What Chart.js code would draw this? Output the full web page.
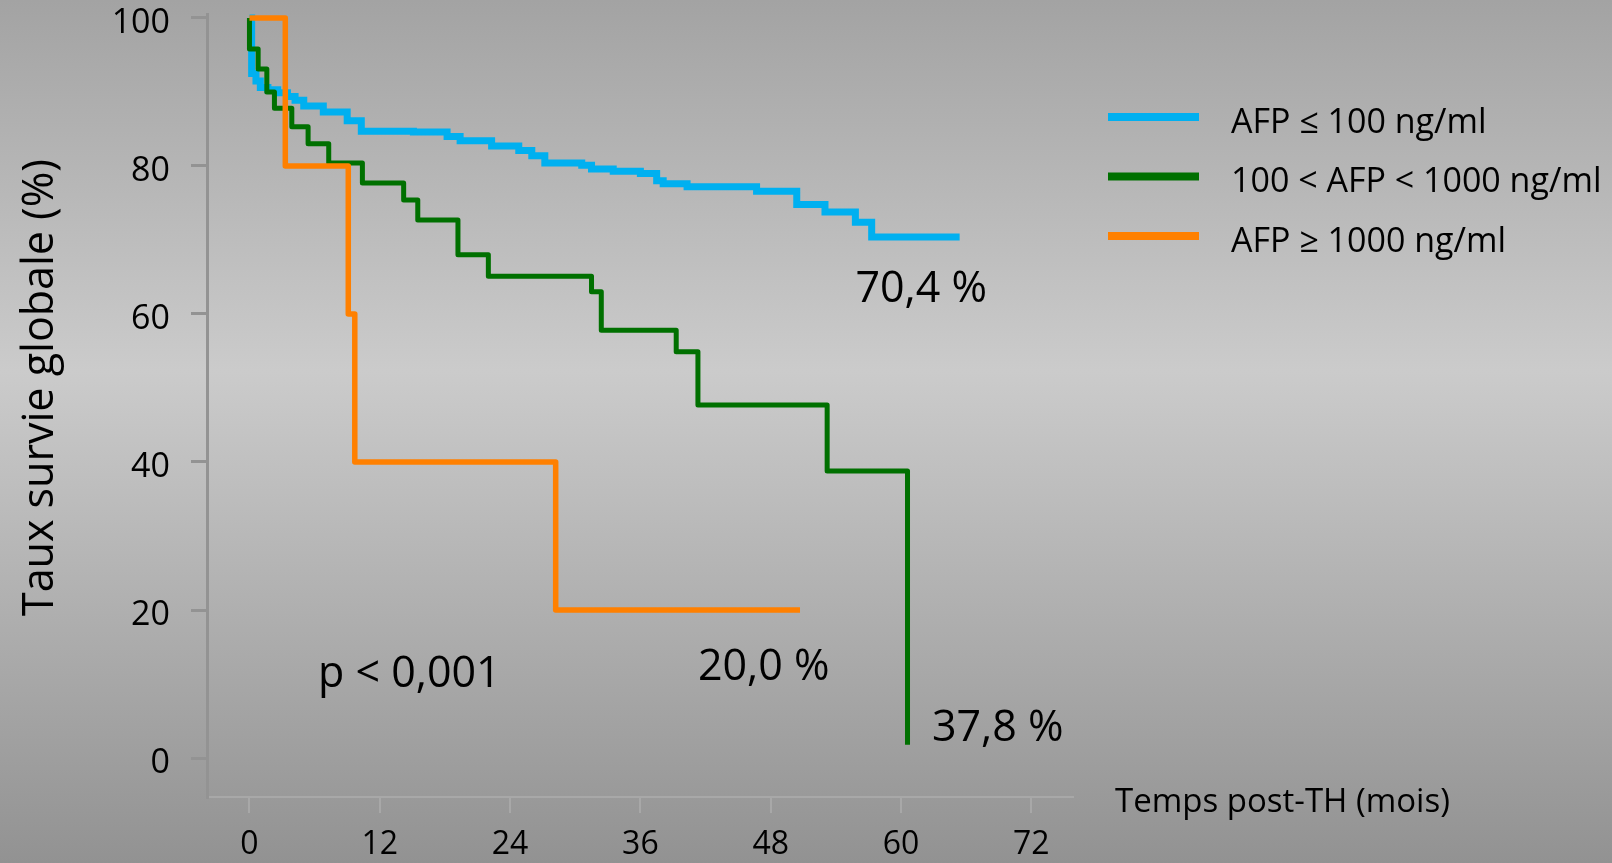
<!doctype html>
<html>

<head>
    <title>Taux survie globale</title>
    <script src="https://cdn.jsdelivr.net/npm/chart.js"></script>
    <style>
        body { margin: 0; }
        #fond {
            width: 1612px;
            height: 863px;
            background: linear-gradient(to bottom, #a3a3a3 0%, #cbcbcb 43%, #929292 100%);
        }
    </style>
</head>

<body>
    <div id="fond">
        <canvas id="survie"></canvas>
    </div>

    <script>
    // ticks
    const xTicks = [0, 12, 24, 36, 48, 60, 72];
    const yTicks = [0, 20, 40, 60, 80, 100];

    // series labels
    const seriesLabels = ['AFP ≤ 100 ng/ml', '100 < AFP < 1000 ng/ml', 'AFP ≥ 1000 ng/ml'];

    // AFP <= 100 (mois, %)
    const lowTimes = [0, 0.2, 0.6, 1.0, 1.7, 2.6, 3.5, 4.2, 5.0, 6.8, 9.0, 10.3, 15.1, 18.2, 19.4, 22.3, 24.8, 26.0, 27.2,
                      30.6, 31.5, 33.5, 36.0, 37.5, 38.1, 40.3, 46.7, 50.4, 53.0, 55.8, 57.3, 65.4];
    const lowSurv  = [100, 92.5, 91.5, 90.6, 90.3, 89.9, 89.4, 88.9, 88.1, 87.3, 86.1, 84.7, 84.6, 84.0, 83.4, 82.7, 82.1, 81.4, 80.4,
                      80.1, 79.6, 79.3, 79.0, 78.0, 77.6, 77.2, 76.6, 74.8, 73.8, 72.4, 70.4, 70.4];

    // 100 < AFP < 1000
    const midTimes = [0, 0, 0.8, 1.6, 2.3, 3.9, 5.4, 7.3, 10.4, 14.2, 15.5, 19.2, 22.0, 31.5, 32.4, 39.3, 41.3, 53.2, 60.6];
    const midSurv  = [100, 95.8, 93.1, 90.0, 87.8, 85.3, 83.0, 80.4, 77.7, 75.4, 72.7, 68.0, 65.1, 63.0, 57.8, 54.9, 47.7, 38.8, 1.8];

    // AFP >= 1000
    const highTimes = [0, 3.3, 9.1, 9.7, 28.2, 50.7];
    const highSurv  = [100, 80, 60, 40, 20, 20];

    // texts
    const noteTexts = ['70,4 %', '20,0 %', '37,8 %', 'p < 0,001'];
    const xTitle = 'Temps post-TH (mois)';
    const yTitle = 'Taux survie globale (%)';

    // text positions (data units, left / baseline)
    const noteX = [55.8, 41.3, 62.85, 6.31];
    const noteY = [61.6, 10.5, 2.3, 9.6];

    const FONT = '"Open Sans", sans-serif';

    function points(times, surv) {
        return times.map((t, i) => ({ x: t, y: surv[i] }));
    }

    const overlay = {
        id: 'overlay',
        afterDraw(chart) {
            const ctx = chart.ctx;
            const area = chart.chartArea;
            const x = chart.scales.x;
            const y = chart.scales.y;
            ctx.save();
            ctx.fillStyle = '#000';
            ctx.textAlign = 'left';
            ctx.textBaseline = 'alphabetic';

            ctx.font = '43px ' + FONT;
            noteTexts.forEach((t, i) => {
                ctx.fillText(t, x.getPixelForValue(noteX[i]), y.getPixelForValue(noteY[i]));
            });

            // titre axe x, à droite de l'axe
            ctx.font = '33px ' + FONT;
            ctx.fillText(xTitle, area.right + 42, area.bottom + 15);

            // titre axe y
            ctx.save();
            ctx.translate(41, (area.top + area.bottom) / 2 - 18);
            ctx.rotate(-Math.PI / 2);
            ctx.textAlign = 'center';
            ctx.textBaseline = 'middle';
            ctx.font = '43px ' + FONT;
            ctx.fillText(yTitle, 0, 0);
            ctx.restore();

            // légende
            chart.data.datasets.forEach((ds, i) => {
                const ly = 117 + i * 59.5;
                ctx.strokeStyle = ds.borderColor;
                ctx.lineWidth = 8;
                ctx.beginPath();
                ctx.moveTo(area.right + 35, ly);
                ctx.lineTo(area.right + 126, ly);
                ctx.stroke();
                ctx.font = '34px ' + FONT;
                ctx.textBaseline = 'middle';
                ctx.fillText(ds.label, area.right + 158, ly + 6);
            });
            ctx.restore();
        }
    };

    var survie = new Chart(document.getElementById('survie'), {
        type: 'line',
        data: {
            datasets: [
                {
                    label: seriesLabels[0],
                    data: points(lowTimes, lowSurv),
                    borderColor: '#00b0f0',
                    borderWidth: 7,
                    stepped: 'before',
                    pointRadius: 0,
                    fill: false,
                    order: 3
                },
                {
                    label: seriesLabels[1],
                    data: points(midTimes, midSurv),
                    borderColor: '#007000',
                    borderWidth: 5,
                    borderJoinStyle: 'round',
                    stepped: 'before',
                    pointRadius: 0,
                    fill: false,
                    order: 2
                },
                {
                    label: seriesLabels[2],
                    data: points(highTimes, highSurv),
                    borderColor: '#ff8000',
                    borderWidth: 5.5,
                    borderJoinStyle: 'round',
                    stepped: 'before',
                    pointRadius: 0,
                    fill: false,
                    order: 1
                }
            ]
        },
        options: {
            responsive: true,
            maintainAspectRatio: false,
            animation: false,
            layout: {
                padding: { top: 14, right: 539, bottom: 0, left: 0 }
            },
            plugins: {
                legend: { display: false },
                tooltip: { enabled: false }
            },
            scales: {
                x: {
                    type: 'linear',
                    bounds: 'data',
                    min: -3.91,
                    max: 75.84,
                    afterBuildTicks: (s) => { s.ticks = xTicks.map(v => ({ value: v })); },
                    afterFit: (s) => { s.height = 66; s.paddingLeft = 0; s.paddingRight = 0; },
                    ticks: {
                        color: '#000',
                        font: { family: FONT, size: 32 },
                        padding: 13,
                        maxRotation: 0,
                        autoSkip: false
                    },
                    grid: {
                        drawOnChartArea: false,
                        drawTicks: true,
                        tickLength: 16,
                        color: '#a8a8a8',
                        lineWidth: 2
                    },
                    border: { display: true, color: '#a8a8a8', width: 2 }
                },
                y: {
                    type: 'linear',
                    bounds: 'data',
                    min: -5.27,
                    max: 100.54,
                    afterBuildTicks: (s) => { s.ticks = yTicks.map(v => ({ value: v })); },
                    afterFit: (s) => { s.width = 207; s.paddingTop = 0; s.paddingBottom = 0; },
                    ticks: {
                        color: '#000',
                        // empty first line + short line height: label sits ~5px under its tick, as in the original
                        font: { family: FONT, size: 34, lineHeight: 0.3 },
                        callback: (v) => ['', String(v)],
                        padding: 21
                    },
                    grid: {
                        drawOnChartArea: false,
                        drawTicks: true,
                        tickLength: 16,
                        color: '#939393',
                        lineWidth: 3
                    },
                    border: { display: true, color: '#939393', width: 3 }
                }
            }
        },
        plugins: [overlay]
    });
    </script>
</body>

</html>
